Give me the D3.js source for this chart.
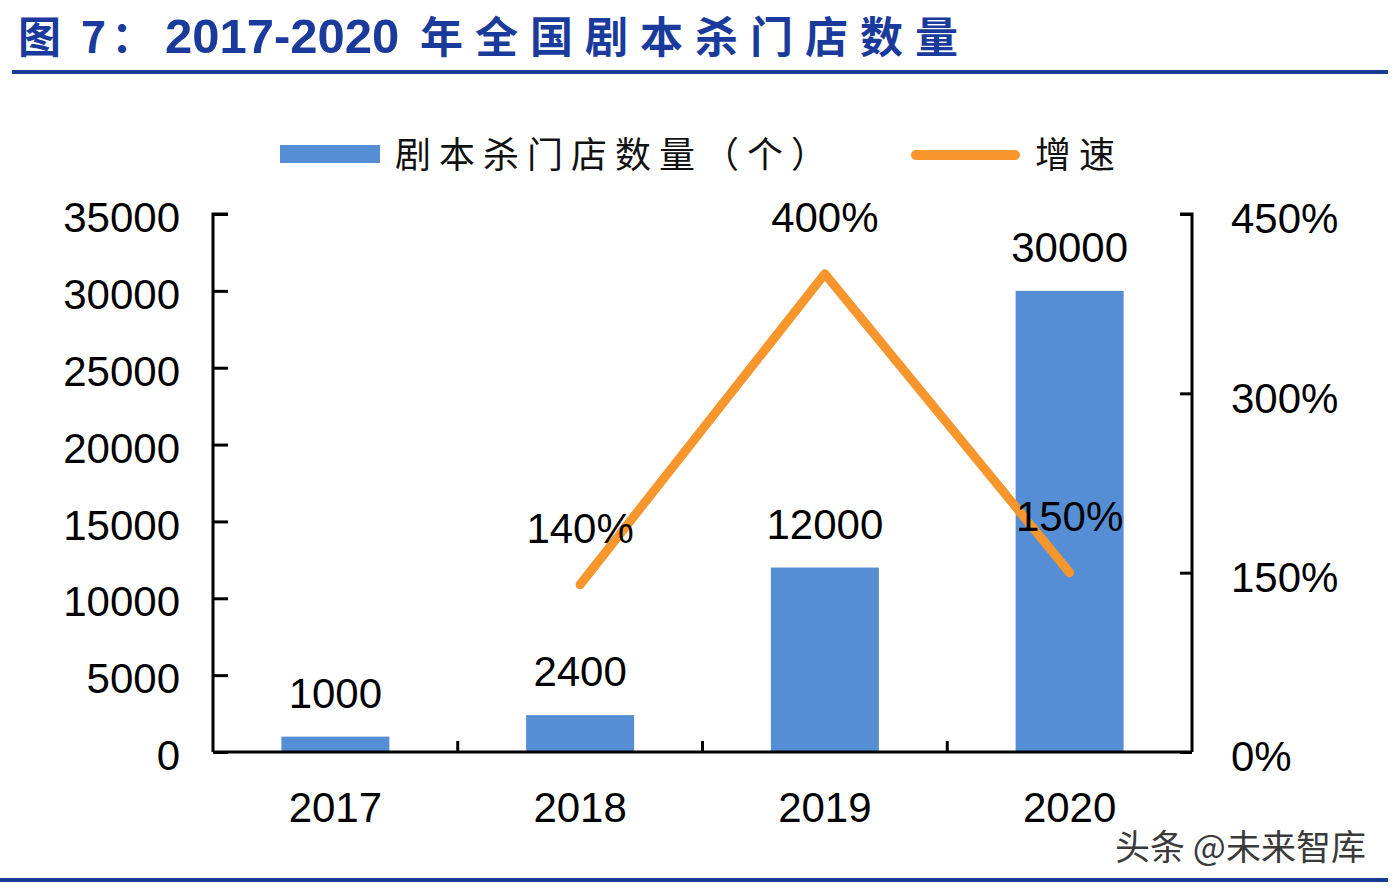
<!DOCTYPE html>
<html><head><meta charset="utf-8">
<script src="https://cdn.jsdelivr.net/npm/d3@7"></script>
<style>body{margin:0;background:#fff}svg{display:block}</style>
</head><body><svg id="c" width="1396" height="890"></svg>
<script>
const categories = ["2017","2018","2019","2020"];
const storeCounts = [1000, 2400, 12000, 30000];
const growthRates = [null, 140, 400, 150];
const leftTicks = [0,5000,10000,15000,20000,25000,30000,35000];
const rightTicks = [0,150,300,450];
const titleParts = ["图 7：", "2017-2020", "年全国剧本杀门店数量"];
const legendBar = "剧本杀门店数量（个）";
const legendLine = "增速";

(function(){
const svg = d3.select("#c");
const pL = 213, pR = 1192, pT = 214, pB = 752;
const numFont = "'Liberation Sans', Arial, sans-serif";
const cjk = "'Noto Sans CJK SC', sans-serif";

// title
const t = svg.append("text").attr("y",53).attr("font-family",cjk).attr("font-weight",700)
  .attr("font-size",43).attr("fill","#1a3b9c");
t.append("tspan").attr("x",18).attr("letter-spacing",5).text(titleParts[0]);
t.append("tspan").attr("x",165).attr("font-family",numFont).attr("font-size",49).text(titleParts[1]);
t.append("tspan").attr("x",420).attr("letter-spacing",12).text(titleParts[2]);
svg.append("line").attr("x1",12).attr("x2",1388).attr("y1",72).attr("y2",72).attr("stroke","#1a3b9c").attr("stroke-width",4);
svg.append("line").attr("x1",0).attr("x2",1388).attr("y1",880).attr("y2",880).attr("stroke","#1a3b9c").attr("stroke-width",4);

const xb = d3.scaleBand().domain(categories).range([pL,pR]);
const yL = d3.scaleLinear().domain([0,35000]).range([pB,pT]);
const yR = d3.scaleLinear().domain([0,450]).range([pB,pT]);

// bars
svg.selectAll("rect.bar").data(storeCounts).join("rect").attr("class","bar")
  .attr("x",(d,i)=>xb(categories[i])+xb.bandwidth()/2-54).attr("width",108)
  .attr("y",d=>yL(d)).attr("height",d=>pB-yL(d)).attr("fill","#558ed5");

// axes
const axL = d3.axisLeft(yL).tickValues(leftTicks).tickSize(-15).tickPadding(33).tickFormat(d3.format("d"));
const gL = svg.append("g").attr("transform",`translate(${pL},0)`).call(axL);
const axR = d3.axisRight(yR).tickValues(rightTicks).tickSize(-12).tickPadding(39).tickFormat(d=>d+"%");
const gR = svg.append("g").attr("transform",`translate(${pR},0)`).call(axR);
const axB = d3.axisBottom(xb).tickSize(0).tickPadding(40);
const gB = svg.append("g").attr("transform",`translate(0,${pB})`).call(axB);
[gL,gR,gB].forEach(g=>{
  g.select(".domain").attr("stroke","#000").attr("stroke-width",3).attr("fill","none");
  g.selectAll(".tick line").attr("stroke","#000").attr("stroke-width",3);
  g.selectAll("text").attr("font-family",numFont).attr("font-size",42).attr("fill","#000");
});
gL.selectAll(".tick text").attr("dy","0.42em");
gR.selectAll(".tick text").attr("dy","0.45em");
gL.select(".domain").attr("d",`M15,${pT}H0V${pB}`);
gR.select(".domain").attr("d",`M-12,${pT}H0V${pB}`);
gB.select(".domain").attr("d",`M${pL},0H${pR}`);
// category boundary ticks
svg.selectAll("line.xt").data(categories.slice(1)).join("line").attr("class","xt")
  .attr("x1",d=>xb(d)).attr("x2",d=>xb(d)).attr("y1",pB).attr("y2",pB-11)
  .attr("stroke","#000").attr("stroke-width",3);

// line
const pts = growthRates.map((v,i)=>({v,c:categories[i]})).filter(d=>d.v!==null);
svg.append("path").datum(pts)
  .attr("d",d3.line().x(d=>xb(d.c)+xb.bandwidth()/2).y(d=>yR(d.v)))
  .attr("fill","none").attr("stroke","#f7962d").attr("stroke-width",9)
  .attr("stroke-linecap","round").attr("stroke-linejoin","round");

// bar labels
svg.selectAll("text.bl").data(storeCounts).join("text").attr("class","bl")
  .attr("x",(d,i)=>xb(categories[i])+xb.bandwidth()/2).attr("y",d=>yL(d)-29)
  .attr("text-anchor","middle").attr("font-family",numFont).attr("font-size",42).text(d=>d);
// line labels
svg.selectAll("text.ll").data(pts).join("text").attr("class","ll")
  .attr("x",d=>xb(d.c)+xb.bandwidth()/2).attr("y",d=>yR(d.v)-42)
  .attr("text-anchor","middle").attr("font-family",numFont).attr("font-size",42).text(d=>d.v+"%");

// legend
svg.append("rect").attr("x",280).attr("y",145).attr("width",100).attr("height",18).attr("fill","#558ed5");
svg.append("text").attr("x",395).attr("y",168).attr("font-family",cjk).attr("font-size",36)
  .attr("letter-spacing",8).attr("fill","#111").text(legendBar);
svg.append("line").attr("x1",916).attr("x2",1015).attr("y1",155).attr("y2",155).attr("stroke","#f7962d").attr("stroke-width",10).attr("stroke-linecap","round");
svg.append("text").attr("x",1035).attr("y",168).attr("font-family",cjk).attr("font-size",36)
  .attr("letter-spacing",8).attr("fill","#111").text(legendLine);

// watermark
svg.append("text").attr("x",1115).attr("y",860).attr("font-family",cjk).attr("font-size",35)
  .attr("fill","#3a3a3a").attr("stroke","#fff").attr("stroke-width",1).attr("paint-order","stroke").text("头条 @未来智库");
})();
</script></body></html>
